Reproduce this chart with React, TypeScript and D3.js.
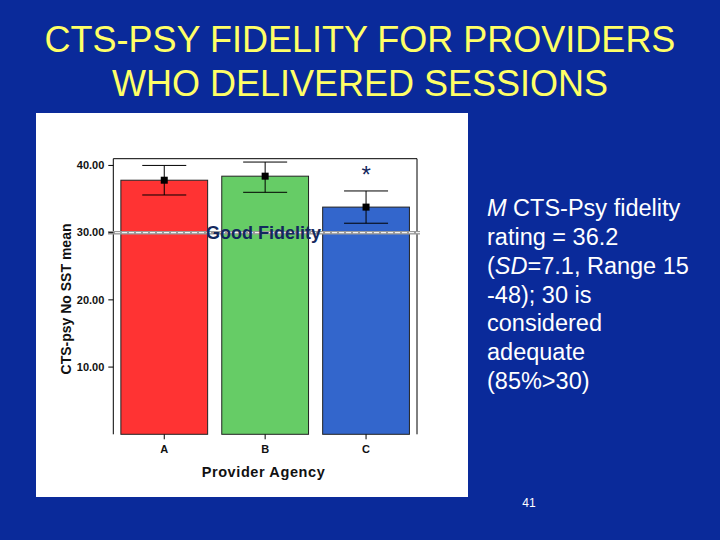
import React from "react";
import * as d3 from "d3";

const categories = ["A", "B", "C"];
const means = [37.8, 38.4, 33.8];
const upperCI = [40.0, 40.5, 36.2];
const lowerCI = [35.6, 36.0, 31.4];
const barColors = ["#ff3333", "#66cc66", "#3366cc"];
const yTicks = [10, 20, 30, 40];
const threshold = 30;
const titleLines = ["CTS-PSY FIDELITY FOR PROVIDERS", "WHO DELIVERED SESSIONS"];

const W = 720;
const H = 540;
const plot = { left: 113.3, right: 417, top: 158.7, bottom: 434.3 };

export default function App() {
  const x = d3
    .scaleBand<string>()
    .domain(categories)
    .range([plot.left, plot.right])
    .paddingInner(0.14)
    .paddingOuter(0.075);
  const y = d3.scaleLinear().domain([0, 41]).range([plot.bottom, plot.top]);
  const font = "Arial, 'Liberation Sans', sans-serif";
  const capHalf = 22;

  return (
    <svg
      width={W}
      height={H}
      style={{ position: "absolute", left: 0, top: 0 }}
      fontFamily={font}
    >
      <rect x={0} y={0} width={W} height={H} fill="#0a2a9a" />
      {titleLines.map((t, i) => (
        <text
          key={t}
          x={360}
          y={52 + i * 44}
          textAnchor="middle"
          fontSize={36}
          fill="#ffff66"
        >
          {t}
        </text>
      ))}

      <rect x={36} y={113} width={432} height={384} fill="#ffffff" />

      {/* frame */}
      <line x1={plot.left} x2={plot.right} y1={plot.top} y2={plot.top} stroke="#000" strokeWidth={1} />
      <line x1={plot.right} x2={plot.right} y1={plot.top} y2={plot.bottom} stroke="#000" strokeWidth={1} />
      <line x1={plot.left} x2={plot.left} y1={plot.top} y2={plot.bottom} stroke="#000" strokeWidth={1} />

      {/* bars */}
      {categories.map((c, i) => (
        <rect
          key={c}
          x={x(c)}
          y={y(means[i])}
          width={x.bandwidth()}
          height={y(0) - y(means[i])}
          fill={barColors[i]}
          stroke="#222"
          strokeWidth={1}
        />
      ))}

      {/* threshold line */}
      <line x1={108} x2={420} y1={y(threshold)} y2={y(threshold)} stroke="#9a9a9a" strokeWidth={3.5} />
      <line
        x1={108}
        x2={420}
        y1={y(threshold)}
        y2={y(threshold)}
        stroke="#ffffff"
        strokeWidth={1}
        strokeDasharray="5,2"
      />
      <text
        x={263.5}
        y={y(threshold) + 6.5}
        textAnchor="middle"
        fontSize={18}
        fontWeight="bold"
        fill="#13285e"
      >
        Good Fidelity
      </text>

      {/* error bars */}
      {categories.map((c, i) => {
        const cx = (x(c) as number) + x.bandwidth() / 2;
        return (
          <g key={c} stroke="#000" strokeWidth={1}>
            <line x1={cx} x2={cx} y1={y(upperCI[i])} y2={y(lowerCI[i])} />
            <line x1={cx - capHalf} x2={cx + capHalf} y1={y(upperCI[i])} y2={y(upperCI[i])} />
            <line x1={cx - capHalf} x2={cx + capHalf} y1={y(lowerCI[i])} y2={y(lowerCI[i])} />
            <rect x={cx - 3.5} y={y(means[i]) - 3.5} width={7} height={7} fill="#000" stroke="none" />
          </g>
        );
      })}

      <text
        x={(x("C") as number) + x.bandwidth() / 2}
        y={183}
        textAnchor="middle"
        fontSize={24}
        fill="#13285e"
      >
        *
      </text>

      {/* y axis */}
      {yTicks.map((t) => (
        <g key={t}>
          <line x1={plot.left - 5} x2={plot.left} y1={y(t)} y2={y(t)} stroke="#000" />
          <text
            x={plot.left - 9}
            y={y(t) + 3.8}
            textAnchor="end"
            fontSize={11}
            fontWeight="bold"
            fill="#111"
          >
            {t.toFixed(2)}
          </text>
        </g>
      ))}
      <text
        transform={`translate(70.5,299) rotate(-90)`}
        textAnchor="middle"
        fontSize={14}
        fontWeight="bold"
        fill="#111"
      >
        CTS-psy No SST mean
      </text>

      {/* x axis */}
      {categories.map((c) => {
        const cx = (x(c) as number) + x.bandwidth() / 2;
        return (
          <g key={c}>
            <line x1={cx} x2={cx} y1={plot.bottom} y2={plot.bottom + 5} stroke="#000" />
            <text x={cx} y={453} textAnchor="middle" fontSize={11} fontWeight="bold" fill="#111">
              {c}
            </text>
          </g>
        );
      })}
      <text
        x={263.5}
        y={477}
        textAnchor="middle"
        fontSize={14.5}
        fontWeight="bold"
        letterSpacing={0.6}
        fill="#111"
      >
        Provider Agency
      </text>

      {/* side note */}
      <g fontSize={23.5} fill="#ffffff">
        <text x={487} y={216}>
          <tspan fontStyle="italic">M</tspan> CTS-Psy fidelity
        </text>
        <text x={487} y={245}>rating = 36.2</text>
        <text x={487} y={274}>
          (<tspan fontStyle="italic">SD</tspan>=7.1, Range 15
        </text>
        <text x={487} y={303}>-48); 30 is</text>
        <text x={487} y={331}>considered</text>
        <text x={487} y={360}>adequate</text>
        <text x={487} y={389}>(85%&gt;30)</text>
      </g>

      <text x={529} y={507} textAnchor="middle" fontSize={12} fill="#ffffff">
        41
      </text>
    </svg>
  );
}
